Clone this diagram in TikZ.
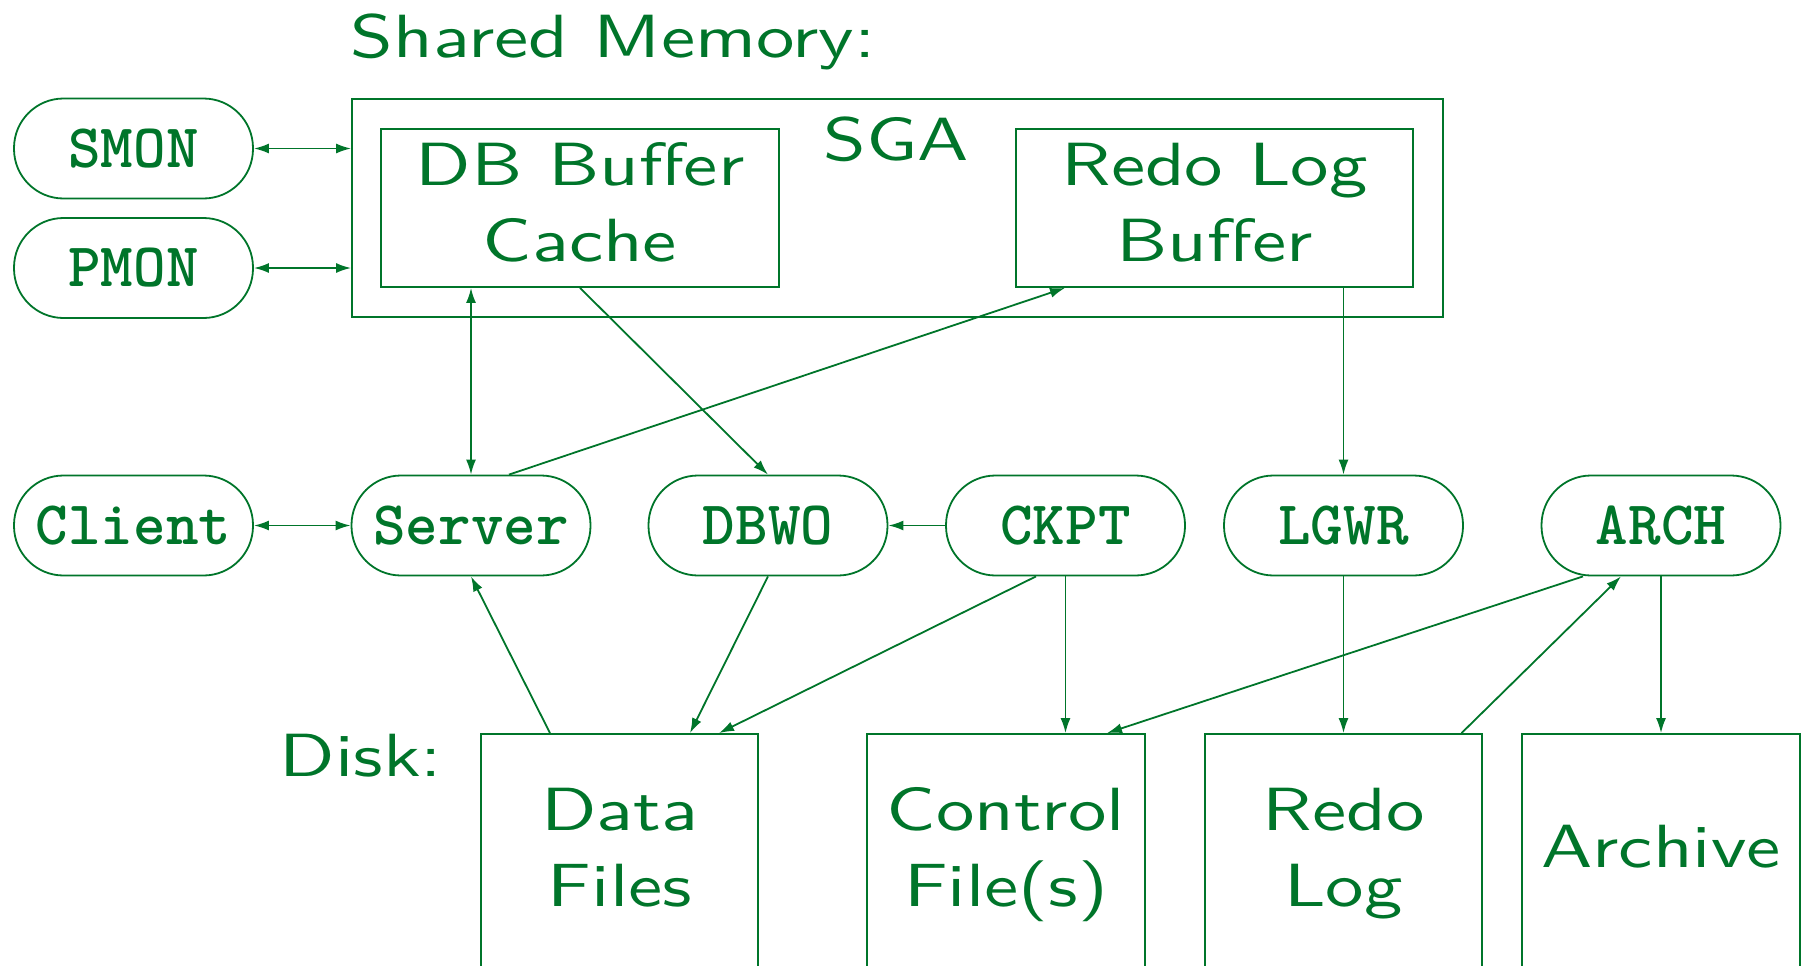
\documentclass[tikz,border=0pt]{standalone}
\usepackage{fontspec}
\newfontfamily\slisans{lmsans10-regular.otf}[FakeStretch=1.26]
\newfontfamily\tttb{lmmonolt10-bold.otf}
\usetikzlibrary{arrows.meta,calc}
\definecolor{dgreen}{RGB}{0,117,42}
\begin{document}
\begin{tikzpicture}[x=1pt,y=-1pt,line width=1.8pt,
  proc/.style={draw=dgreen,rectangle,rounded corners=49.5pt,minimum width=239pt,minimum height=100pt,inner sep=0pt,font=\tttb\fontsize{62}{75}\selectfont,text=dgreen},
  membox/.style={draw=dgreen,rectangle,inner sep=0pt},
  diskbox/.style={draw=dgreen,rectangle,inner sep=0pt,minimum width=277.5pt,minimum height=276pt},
  lbl/.style={font=\slisans\fontsize{61}{75.5}\selectfont,text=dgreen,inner sep=0pt,align=center},
  arr/.style={draw=dgreen,-{Latex[length=15pt,width=10pt]}},
  darr/.style={draw=dgreen,{Latex[length=15pt,width=10pt]}-{Latex[length=15pt,width=10pt]}}]
\useasboundingbox (0,0) rectangle (1809,966);
% shared memory
\node[lbl,anchor=base west] (shm) at (350,57) {Shared Memory:};
\node[membox,minimum width=1091pt,minimum height=218pt] (sga) at (897.5,208) {};
\node[lbl,anchor=base] (sgat) at (896,160) {SGA};
\node[membox,minimum width=398pt,minimum height=158pt] (dbbuf) at (580,208) {};
\node[lbl,anchor=north] (dbbuft) at (580,142) {DB Buffer\\Cache};
\node[membox,minimum width=397pt,minimum height=158pt] (redobuf) at (1214.5,208) {};
\node[lbl,anchor=north] (redobuft) at (1214.5,142.5) {Redo Log\\Buffer};
% processes
\node[proc] (smon) at (133.5,148.5) {SMON};
\node[proc] (pmon) at (133.5,268) {PMON};
\node[proc] (client) at (133.5,525.5) {Client};
\node[proc] (server) at (471,525.5) {Server};
\node[proc] (dbwo) at (768,525.5) {DBWO};
\node[proc] (ckpt) at (1065.5,525.5) {CKPT};
\node[proc] (lgwr) at (1343.5,525.5) {LGWR};
\node[proc] (arch) at (1661,525.5) {ARCH};
% disk
\node[lbl,anchor=base west] (disk) at (279,776) {Disk:};
\node[diskbox] (datafiles) at (619.5,872) {};
\node[lbl,anchor=north] (datat) at (620,787.7) {Data\\Files};
\node[diskbox] (control) at (1006,872) {};
\node[lbl,anchor=north] (controlt) at (1006,787) {Control\\File(s)};
\node[diskbox] (redolog) at (1343.5,872) {};
\node[lbl,anchor=north] (redologt) at (1343.5,787.7) {Redo\\Log};
\node[diskbox] (archive) at (1661,872) {};
\node[lbl,anchor=base] (archivet) at (1661,867) {Archive};
% connectors
\draw[darr] (smon.east) -- (smon.east -| sga.west);
\draw[darr] (pmon.east) -- (pmon.east -| sga.west);
\draw[darr] (client) -- (server);
\draw[darr] (server.north) -- (server.north |- dbbuf.south);
\draw[arr] (dbbuf.south) -- (dbwo.north);
\draw[arr] ([xshift=38pt]server.north) -- ([xshift=-149.5pt]redobuf.south);
\draw[arr] (lgwr.north |- redobuf.south) -- (lgwr.north);
\draw[arr] (ckpt) -- (dbwo);
\draw[arr] ([xshift=-69.5pt]datafiles.north) -- (server.south);
\draw[arr] (dbwo.south) -- ([xshift=70.5pt]datafiles.north);
\draw[arr] ([xshift=-29.5pt]ckpt.south) -- ([xshift=99.5pt]datafiles.north);
\draw[arr] (ckpt.south) -- (ckpt.south |- control.north);
\draw[arr] ([xshift=-78pt]arch.south) -- ([xshift=101pt]control.north);
\draw[arr] ([xshift=118pt]redolog.north) -- ([xshift=-40pt]arch.south);
\draw[arr] (lgwr.south) -- (redolog.north);
\draw[arr] (arch.south) -- (archive.north);
\end{tikzpicture}
\end{document}
